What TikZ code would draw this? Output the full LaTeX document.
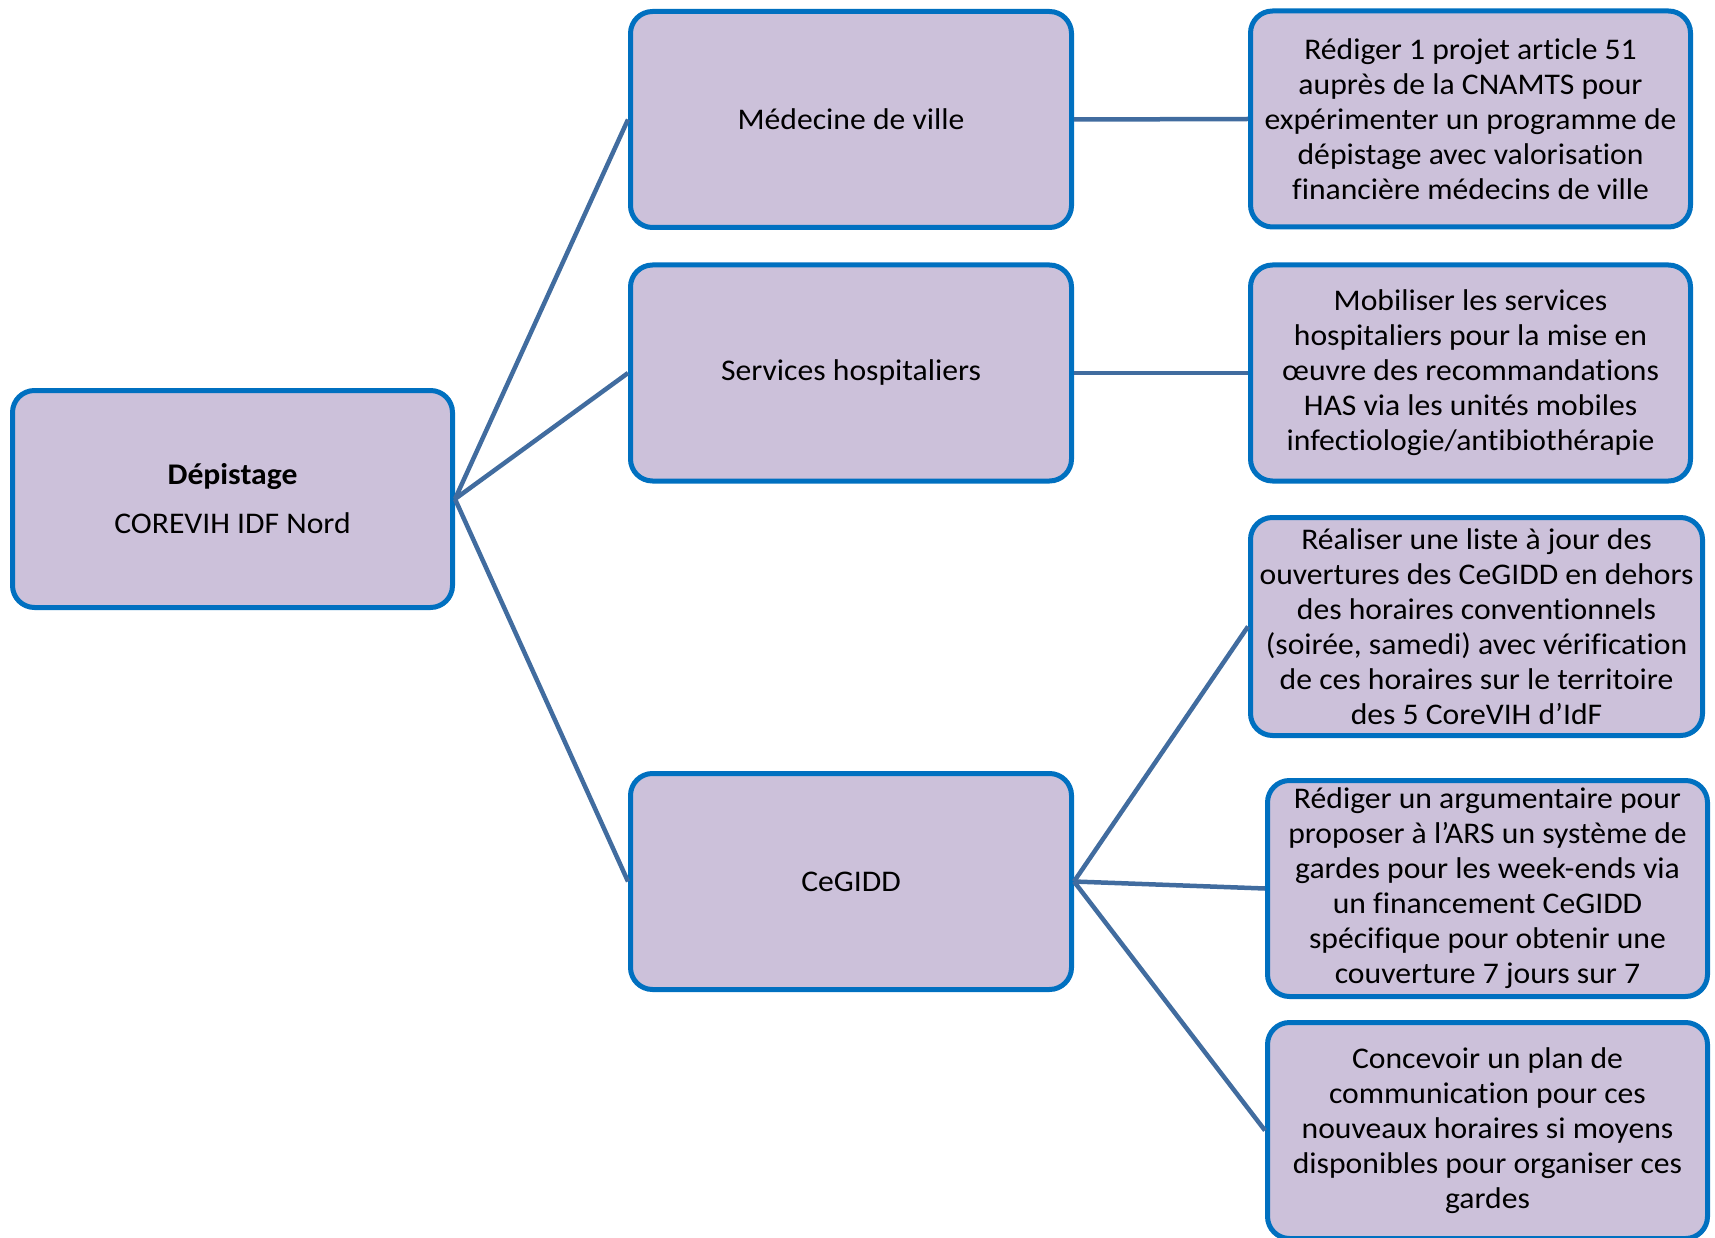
\documentclass[tikz,border=0pt]{standalone}
\usepackage{fontspec}
\setmainfont{Carlito}[FakeStretch=1.055, Ligatures={NoCommon,NoRare,NoContextual}]
\definecolor{boxfill}{HTML}{CCC1DA}
\definecolor{boxline}{HTML}{0070C0}
\definecolor{linkcol}{HTML}{416C9F}
\tikzset{
  box/.style={draw=boxline, fill=boxfill, line width=5pt, rounded corners=22pt,
    align=center, inner sep=0pt, font=\fontsize{30}{35}\selectfont},
  link/.style={draw=linkcol, line width=4.5pt}
}
\begin{document}
\begin{tikzpicture}[x=1pt,y=-1pt]
\useasboundingbox (0,0) rectangle (1715,1238);
\node[box, minimum width=440pt, minimum height=217pt] (dep) at (232.5,499)
  {\textbf{Dépistage}\\[14pt]COREVIH IDF Nord};
\node[box, minimum width=441pt, minimum height=216pt] (med) at (851,119.5) {Médecine de ville};
\node[box, minimum width=441pt, minimum height=216pt] (serv) at (851,373) {Services hospitaliers};
\node[box, minimum width=441pt, minimum height=216pt] (ceg) at (851,881.5) {CeGIDD};
\node[box, minimum width=440pt, minimum height=216pt] (r1) at (1470.5,119)
  {Rédiger 1 projet article 51\\auprès de la CNAMTS pour\\expérimenter un programme de\\dépistage avec valorisation\\financière médecins de ville};
\node[box, minimum width=440pt, minimum height=216pt] (r2) at (1470.5,373)
  {Mobiliser les services\\hospitaliers pour la mise en\\œuvre des recommandations\\HAS via les unités mobiles\\infectiologie/antibiothérapie};
\node[box, minimum width=452pt, minimum height=218pt] (r3) at (1476.5,626.5)
  {Réaliser une liste à jour des\\ouvertures des CeGIDD en dehors\\des horaires conventionnels\\(soirée, samedi) avec vérification\\de ces horaires sur le territoire\\des 5 CoreVIH d’IdF};
\node[box, minimum width=440pt, minimum height=216pt] (r4) at (1487.5,888.5)
  {Rédiger un argumentaire pour\\proposer à l’ARS un système de\\gardes pour les week-ends via\\un financement CeGIDD\\spécifique pour obtenir une\\couverture 7 jours sur 7};
\node[box, minimum width=440pt, minimum height=216pt] (r5) at (1487.5,1130.5)
  {Concevoir un plan de\\communication pour ces\\nouveaux horaires si moyens\\disponibles pour organiser ces\\gardes};
\draw[link] (dep.east) -- (med.west);
\draw[link] (dep.east) -- (serv.west);
\draw[link] (dep.east) -- (ceg.west);
\draw[link] (med.east) -- (r1.west);
\draw[link] (serv.east) -- (r2.west);
\draw[link] (ceg.east) -- (r3.west);
\draw[link] (ceg.east) -- (r4.west);
\draw[link] (ceg.east) -- (r5.west);
\end{tikzpicture}
\end{document}
